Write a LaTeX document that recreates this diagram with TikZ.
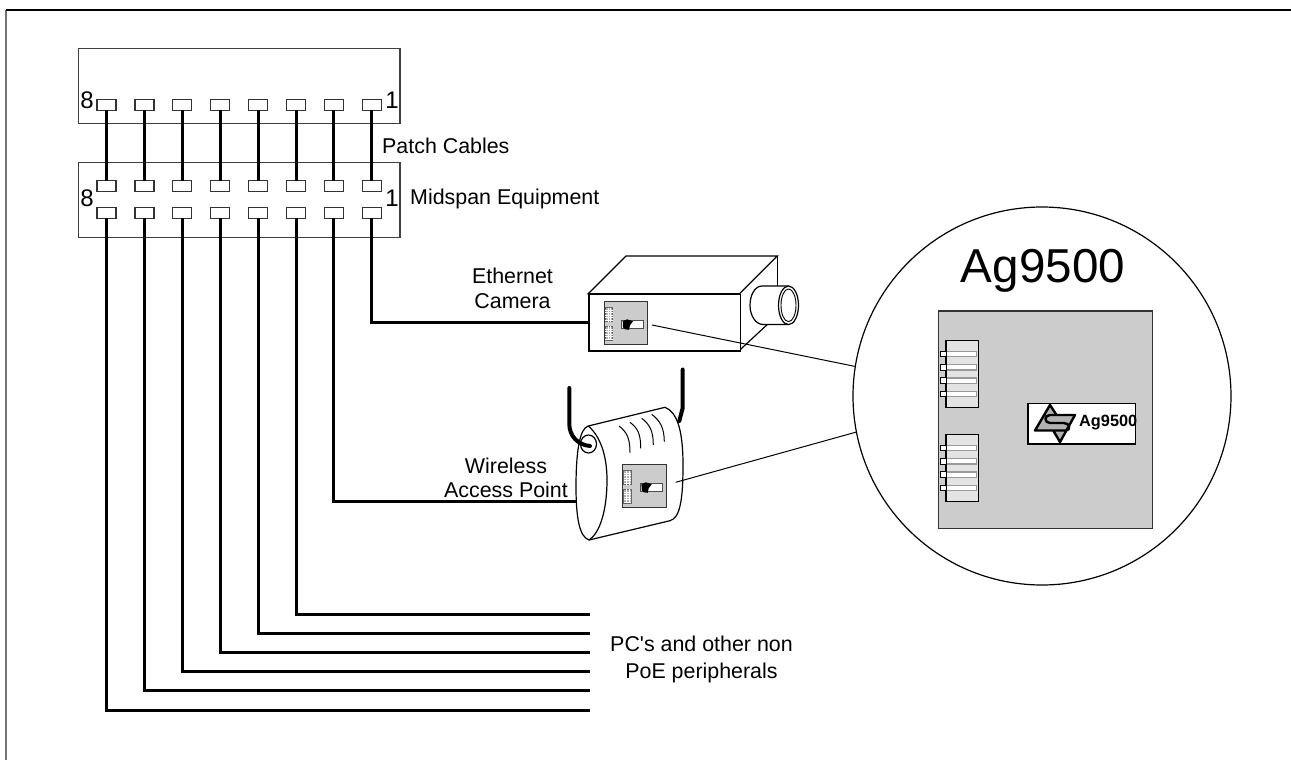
\documentclass[tikz,border=0pt]{standalone}
\usepackage{fontspec}
\setmainfont{Liberation Sans}
\newfontfamily\plainf{Liberation Sans}
\tikzset{
 panel/.style={draw=black!75,line width=1.2pt,fill=white},
 port/.style={draw=black!80,line width=1.2pt,fill=white,minimum width=19pt,minimum height=11pt,inner sep=0pt,outer sep=0pt},
 cable/.style={line width=3pt,black},
 thin line/.style={line width=1.2pt,black},
 lab/.style={font=\plainf\fontsize{21.4}{25}\selectfont,inner sep=0pt,align=center},
 num/.style={font=\fontsize{24}{28}\selectfont,inner sep=0pt},
 boardg/.style={fill=black!20,draw=black!80},
 pin/.style={fill=white,draw=black!40,line width=1.2pt},
 pinend/.style={fill=white,draw=black,line width=.9pt},
}
\begin{document}
\begin{tikzpicture}[x=1pt,y=-1pt]
\useasboundingbox (0,0) rectangle (1291,760);
\draw[line width=2pt,black!55] (6,760) -- (6,10);
\draw[line width=1.2pt] (6,10) -- (1291,10);
\node[panel,minimum width=321.6pt,minimum height=75pt,inner sep=0pt,anchor=north west] (top) at (77.7,48) {};
\node[panel,minimum width=321.6pt,minimum height=75.3pt,inner sep=0pt,anchor=north west] (mid) at (77.7,161.7) {};
\foreach \i in {1,...,8}{
 \pgfmathsetmacro{\px}{371.8-37.9*(\i-1)}
 \node[port] (a\i) at (\px,104.8) {};
 \node[port] (b\i) at (\px,186.2) {};
 \node[port] (c\i) at (\px,212.7) {};
 \draw[cable] (a\i.south) -- (b\i.north);
}
\node[num] (n8a) at (87,100.5) {8};
\node[num] (n1a) at (392,100.5) {1};
\node[num] (n8b) at (87,198) {8};
\node[num] (n1b) at (392,198) {1};
\node[lab,anchor=west] (patch) at (382,145.5) {Patch Cables};
\node[lab,anchor=west] (midspan) at (410,198.5) {Midspan Equipment};
\node[lab] (ecam) at (512.5,288.5) {Ethernet\\[0pt]Camera};
\node[lab] (wap) at (506,477.5) {Wireless\\[-1pt]Access Point};
\node[lab] (pcs) at (701.5,659) {PC's and other non\\[2pt]PoE peripherals};
\coordinate (e3) at (590,614);
\coordinate (e4) at (590,633);
\coordinate (e5) at (590,652);
\coordinate (e6) at (590,671);
\coordinate (e7) at (590,690);
\coordinate (e8) at (590,710);
\foreach \i in {3,...,8}{\draw[cable] (c\i.south) |- (e\i);}
% camera
\draw[thin line,fill=white] (588.3,293.7) -- (626,256) -- (777.3,256) -- (739.5,293.7) -- cycle;
\draw[thin line] (777.3,256) -- (777.3,290);
\draw[thin line] (739.5,350.3) -- (770,322);
\node[draw=black,line width=1.3pt,fill=white,minimum width=151.2pt,minimum height=56.6pt,inner sep=0pt,anchor=north west] (cam) at (588.3,293.7) {};
\draw[cable] (c1.south) |- (cam.west);
\draw[thin line,fill=white] (788,286) -- (762,286) .. controls (755,286) and (750,295) .. (750,305.3) .. controls (750,316) and (756,324.5) .. (763,324.5) -- (788,324.5) -- cycle;
\draw[thin line,fill=white] (788.5,305.3) ellipse[x radius=10,y radius=19.3];
\draw[line width=.9pt] (788.5,305.3) ellipse[x radius=7.5,y radius=16.3];
% AP
\draw[cable,line width=4pt,line cap=round] (682.7,369.5) -- (682.7,408) -- (679.3,421);
\draw[thin line,fill=white] (588.3,426) -- (665,407.3) .. controls (677,412) and (683,430) .. (683,465) .. controls (683,500) and (680,518) .. (670,520.7) -- (589,540) .. controls (580,537) and (576,520) .. (576,487) .. controls (576,450) and (580,428) .. (588.3,426) -- cycle;
\draw[thin line] (588.3,426) .. controls (600,436) and (607,455) .. (607,480) .. controls (607,510) and (600,533) .. (589,540);
\draw[thin line,fill=white] (588.5,444) ellipse[x radius=8,y radius=9];
\draw[cable,line width=4pt,line cap=round] (569.3,388) -- (569.3,424) .. controls (569.3,436) and (578,445) .. (590,446);
\foreach \xa/\ya/\xb/\yb in {619/426/630/452.7,630/422.3/640.7/448.3,641.7/418.3/653.3/445,651.7/414.3/664.3/441.7}
  \draw[line width=1pt] (\xa,\ya) .. controls (\xa+8,\ya+6) and (\xb,\yb-14) .. (\xb,\yb);
\coordinate (apc) at (576,501);
\draw[cable] (c2.south) |- (apc);
% small boards
\foreach \ox/\oy in {604/301.3,622.7/464.3}{
 \begin{scope}[shift={(\ox,\oy)}]
 \draw[boardg,line width=1pt] (0,0) rectangle (43.3,43.6);
 \foreach \yy in {6.4,25}{
  \fill[black!30] (1,\yy) rectangle (8.7,\yy+14);
  \draw[black!60,line width=.8pt] (1,\yy) rectangle (8.7,\yy+14);
  \foreach \t in {2.5,5,7.5,10,12.5}{\draw[white,line width=.6pt] (1,\yy+\t) -- (8.7,\yy+\t);}
  \foreach \t in {3,5.5}{\draw[white,line width=.6pt] (1+\t,\yy) -- (1+\t,\yy+14);}
 }
 \draw[black!70,fill=white,line width=1pt] (17.7,19) rectangle (39.3,27);
 \fill[black] (18.7,20) -- (23,18) -- (29,20) -- (26,24) -- (25,28.5) -- (21,28) -- (19,26) -- cycle;
 \end{scope}
}
\coordinate (cl1) at (652,325);
\coordinate (cl2) at (675.7,482.3);
% circle
\node[draw=black,line width=1.2pt,circle,minimum size=378pt,inner sep=0pt,fill=white] (circ) at (1042,396) {};
\draw[line width=1pt] (cl1) -- (circ.171);
\draw[line width=1pt] (cl2) -- (circ.191.5);
\node[font=\plainf\fontsize{47.6}{50}\selectfont,inner sep=0pt] (title) at (1043,271) {Ag9500};
\draw[boardg,line width=1.2pt] (938.3,311) rectangle (1152.7,528.3);
\foreach \yo in {340.7,434.7}{
 \draw[fill=black!11,draw=black,line width=1.1pt] (946,\yo) rectangle (978.3,\yo+66.6);
 \foreach \k in {0,1,2,3}{
  \pgfmathsetmacro{\yp}{\yo+10.6+13.3*\k}
  \draw[pin] (946,\yp) rectangle (976.3,\yp+5.4);
  \draw[pinend] (940,\yp) rectangle (946,\yp+5.4);
 }
}
\node[draw=black,line width=1.2pt,fill=white,minimum width=107.7pt,minimum height=40.3pt,inner sep=0pt,anchor=north west] (label) at (1027.3,403) {};
\fill[black!30] (1050,405) -- (1035,430.5) -- (1054,430.5) -- (1060,442) -- (1075,415) -- (1057,415) -- cycle;
\draw[draw=black,line width=2.4pt,line join=round] (1056.5,415) -- (1050,405) -- (1035,430.5) -- (1066,430.5) .. controls (1071,430.5) and (1070,423) .. (1064,423) -- (1050,423) .. controls (1044,423) and (1044,415) .. (1050,415) -- (1075,415) -- (1060,442) -- (1053.5,431);
\node[font=\plainf\bfseries\fontsize{16.3}{18}\selectfont,inner sep=0pt,anchor=west] (small) at (1079,423) {Ag9500};
\end{tikzpicture}
\end{document}
